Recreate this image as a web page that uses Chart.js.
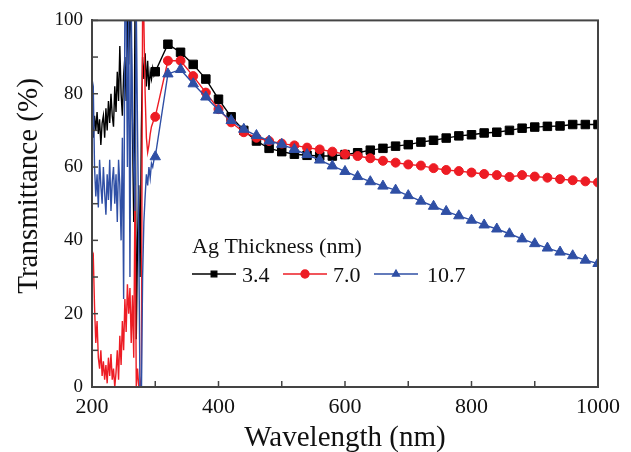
<!DOCTYPE html>
<html>
<head>
<meta charset="utf-8">
<script src="https://cdn.jsdelivr.net/npm/chart.js@4"></script>
<style>
  html, body { margin: 0; padding: 0; background: #fff; }
  #chart { display: block; }
</style>
</head>
<body>
<canvas id="chart" width="631" height="452"></canvas>
<script>
// DADOS
const wavelengths = [200,202,204,206,208,210,212,214,216,218,220,222,224,226,228,230,232,234,236,238,240,242,244,246,248,250,252,254,256,258,260,262,264,266,268,270,272,274,276,278,280,282,284,286,288,290,292,294,296,298,300,320,340,360,380,400,420,440,460,480,500,520,540,560,580,600,620,640,660,680,700,720,740,760,780,800,820,840,860,880,900,920,940,960,980,1000];

const t34 = [72,68,74,70,75,69,73,66,72,74,68,76,70,78,72,80,74,71,82,75,86,78,93,80,74,85,90,78,104,88,104,95,70,45,104,13,40,55,30,70,90,84,91,82,89,81,86,84,87,85,
  86,93.5,91.3,88,84,78.5,73.7,70,67.1,65.1,64.2,63.5,63.2,63,63,63.4,63.9,64.6,65.1,65.7,66.1,66.8,67.3,67.9,68.5,68.8,69.3,69.5,70,70.6,70.9,71.1,71.2,71.6,71.6,71.6];

const t70 = [35,36,22,12,18,8,5,10,3,7,2,6,1,8,3,9,2,5,0,4,10,2,14,6,18,10,24,15,28,20,27,12,25,8,55,0,5,0,0,3,105,100,80,68,64,66,69,71,72,73,
  73.7,89,89,84.8,80.3,75.8,72.2,69.5,68,67.1,66.4,65.9,65.3,64.8,64.2,63.5,63,62.4,61.7,61.2,60.7,60.4,59.7,59.2,58.9,58.5,58.1,57.8,57.3,57.8,57.4,57.1,56.7,56.4,56.1,55.8];

const t107 = [84,82,60,52,58,49,62,55,50,60,53,47,58,51,62,48,56,60,50,58,45,62,55,40,68,24,104,104,60,104,30,104,75,60,48,104,70,40,-5,-5,30,45,52,58,55,60,57,61,60,62,
  62.8,85.4,86.6,82.7,79.1,75.5,72.7,70.3,68.6,67.1,66.2,64.8,63.4,61.9,60.3,58.8,57.4,56,54.8,53.7,52.2,50.7,49.3,47.9,46.7,45.5,44.2,43.1,41.8,40.4,39.1,37.9,36.8,35.8,34.6,33.7];

const legendLabels = ["3.4", "7.0", "10.7"];

const SERIF = '"Liberation Serif", "Times New Roman", serif';
const BLACK = "#000000";
const RED = "#ed1c24";
const BLUE = "#2f4fa5";

function points(vals) {
    return wavelengths.map((w, i) => ({ x: w, y: vals[i] }));
}

// marcadores só na parte medida de 20 em 20 nm
function markerRadius(r) {
    return ctx => (ctx.raw && ctx.raw.x >= 300 ? r : 0);
}

function makeSet(label, vals, color, style, r, order) {
    return {
        label: label,
        data: points(vals),
        borderColor: color,
        backgroundColor: color,
        borderWidth: 1.4,
        pointStyle: style,
        pointRadius: markerRadius(r),
        pointBorderWidth: 1,
        pointBorderColor: color,
        pointBackgroundColor: color,
        tension: 0,
        order: order
    };
}

// MOLDURA, TICKS PARA DENTRO E TÍTULO Y
const framePlugin = {
    id: "frame",
    afterDatasetsDraw(chart) {
        const c = chart.ctx;
        const a = chart.chartArea;
        const xs = chart.scales.x;
        const ys = chart.scales.y;
        c.save();
        c.strokeStyle = "#444";
        c.lineWidth = 1.5;
        xs.ticks.forEach(t => {
            const px = xs.getPixelForValue(t.value);
            c.beginPath();
            c.moveTo(px, a.bottom);
            c.lineTo(px, a.bottom - 6);
            c.stroke();
        });
        ys.ticks.forEach(t => {
            const py = ys.getPixelForValue(t.value);
            c.beginPath();
            c.moveTo(a.left, py);
            c.lineTo(a.left + 6, py);
            c.stroke();
        });
        c.lineWidth = 2;
        c.strokeRect(a.left, a.top, a.right - a.left, a.bottom - a.top);

        c.translate(29, 186);
        c.rotate(-Math.PI / 2);
        c.font = "29px " + SERIF;
        c.fillStyle = "#111";
        c.textAlign = "center";
        c.textBaseline = "middle";
        c.fillText("Transmittance (%)", 0, 0);
        c.restore();
    }
};

// LEGENDA
const legendPlugin = {
    id: "inLegend",
    afterDraw(chart) {
        const c = chart.ctx;
        c.save();
        c.font = "22px " + SERIF;
        c.fillStyle = "#111";
        c.textBaseline = "alphabetic";
        c.fillText("Ag Thickness (nm)", 192, 253);
        const starts = [192, 283, 374];
        const textX = [242, 333, 427];
        chart.data.datasets.forEach((ds, i) => {
            const x0 = starts[i];
            const y = 274;
            c.strokeStyle = ds.borderColor;
            c.fillStyle = ds.borderColor;
            c.lineWidth = 1.3;
            c.beginPath();
            c.moveTo(x0, y);
            c.lineTo(x0 + 44, y);
            c.stroke();
            Chart.helpers.drawPoint(c, { pointStyle: ds.pointStyle, radius: 4, borderWidth: 1, rotation: 0 }, x0 + 22, y);
            c.fillStyle = "#111";
            c.fillText(legendLabels[i], textX[i], 282);
        });
        c.restore();
    }
};

// GRÁFICO
function loadChart() {
    const ctx = document.getElementById("chart");

    new Chart(ctx, {
        type: "line",
        data: {
            datasets: [
                makeSet(legendLabels[0], t34, BLACK, "rect", 6, 3),
                makeSet(legendLabels[1], t70, RED, "circle", 4.5, 2),
                makeSet(legendLabels[2], t107, BLUE, "triangle", 6, 1)
            ]
        },
        options: {
            responsive: false,
            animation: false,
            devicePixelRatio: 1,
            layout: { padding: { top: 15, right: 33, left: 0, bottom: 0 } },
            plugins: {
                legend: { display: false },
                tooltip: { enabled: false }
            },
            scales: {
                x: {
                    type: "linear",
                    min: 200,
                    max: 1000,
                    ticks: {
                        stepSize: 100,
                        autoSkip: false,
                        maxRotation: 0,
                        padding: 7,
                        color: "#111",
                        font: { family: SERIF, size: 22 },
                        callback: v => (v % 200 === 0 ? v : "")
                    },
                    grid: { drawOnChartArea: false, drawTicks: false },
                    border: { color: "#444", width: 2 },
                    title: {
                        display: true,
                        text: "Wavelength (nm)",
                        color: "#111",
                        font: { family: SERIF, size: 29 },
                        padding: { top: 0, bottom: -4 }
                    },
                    afterFit: s => { s.height = 65; }
                },
                y: {
                    min: 0,
                    max: 100,
                    ticks: {
                        stepSize: 10,
                        autoSkip: false,
                        padding: 9,
                        color: "#111",
                        font: { family: SERIF, size: 19 },
                        callback: v => (v % 20 === 0 ? v : "")
                    },
                    grid: { drawOnChartArea: false, drawTicks: false },
                    border: { color: "#444", width: 2 },
                    afterFit: s => { s.width = 92; }
                }
            }
        },
        plugins: [framePlugin, legendPlugin]
    });
}

// INIT
window.onload = () => {
    loadChart();
};
</script>
</body>
</html>
